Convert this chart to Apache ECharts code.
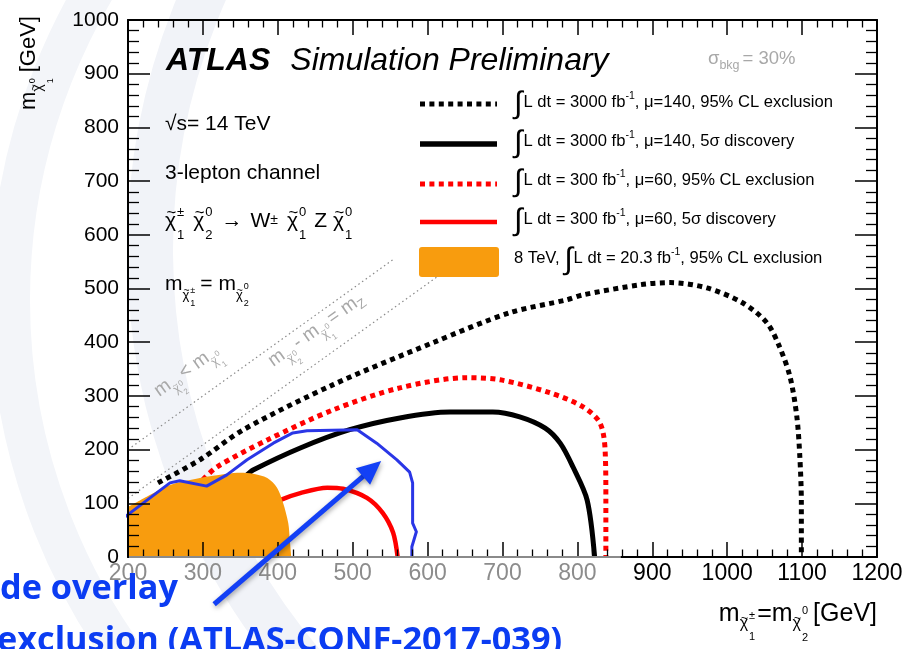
<!DOCTYPE html>
<html>
<head>
<meta charset="utf-8">
<script src="https://cdn.jsdelivr.net/npm/echarts@6/dist/echarts.min.js"></script>
<style>
html,body{margin:0;padding:0;background:#fff;}
#wrap{position:relative;width:912px;height:649px;overflow:hidden;}
#sweep{position:absolute;left:0;top:0;}
#c{position:absolute;left:0;top:0;width:912px;height:649px;}
</style>
</head>
<body>
<div id="wrap">
  <svg id="sweep" width="912" height="649" viewBox="0 0 912 649">
    <circle cx="790" cy="250" r="640" fill="none" stroke="#f1f3f8" stroke-width="46"/>
    <circle cx="620" cy="300" r="610" fill="none" stroke="#f3f5f9" stroke-width="40"/>
  </svg>
  <div id="c"></div>
</div>
<script>
// ---- axes ----
const xRange = [200, 1200];
const yRange = [0, 1000];
const tickStep = 100;
const greyLabelMax = 800;          // labels up to this value are printed in grey

// ---- contours: [m(chargino) = m(neutralino2), m(neutralino1)] in GeV ----
const excl3000 = [[240,138],[296,181],[354,237],[474,321],[607,399],[710,455],[786,479],[807,488],[884,507],[924,511],[973,501],[1021,473],[1053,436],[1070,391],[1084,335],[1093,261],[1097,186],[1099,101],[1099,0]];
const disc3000 = [[359,153],[367,162],[430,203],[496,237],[563,259],[630,270],[687,270],[723,261],[757,240],[777,212],[794,168],[813,106],[823,0]];
const excl300  = [[300,144],[319,168],[386,218],[474,274],[563,315],[653,334],[697,330],[763,306],[807,280],[830,250],[837,199],[838,106],[838,0]];
const disc300  = [[390,95],[403,106],[430,119],[466,129],[487,127],[519,110],[540,82],[554,45],[560,0]];
const excl8TeV = [[200,93],[225,112],[256,134],[296,147],[332,155],[350,157],[367,155],[386,147],[399,129],[407,101],[414,63],[416,32],[418,0]];
const overlay2017 = [[123,0],[136,9],[199,78],[256,138],[269,142],[305,132],[332,153],[359,181],[394,212],[420,231],[439,235],[506,237],[532,212],[559,181],[576,158],[580,138],[580,63],[585,47],[579,19],[579,0]];
const lineEqual = [[200,200],[556,556]];   // m(chi2) = m(chi1)
const lineMZ    = [[200,109],[625,534]];   // m(chi2) - m(chi1) = mZ
const arrowFrom = [315,-88], arrowTo = [538,179];

// ---- legend text ----
const legendRows = [
  ['L dt = 3000 fb', '-1', ', \u03bc=140, 95% CL exclusion'],
  ['L dt = 3000 fb', '-1', ', \u03bc=140, 5\u03c3 discovery'],
  ['L dt = 300 fb',  '-1', ', \u03bc=60, 95% CL exclusion'],
  ['L dt = 300 fb',  '-1', ', \u03bc=60, 5\u03c3 discovery'],
  ['L dt = 20.3 fb', '-1', ', 95% CL exclusion']
];

const FF = '"Liberation Sans", Arial, Helvetica, sans-serif';
const BLACK = '#000', RED = '#ff0000', ORANGE = '#f89c0e', BLUE = '#2a36e6', ARROW = '#1340f5';

const mctx = document.createElement('canvas').getContext('2d');
function textW(t, size, style, weight, fam) {
  mctx.font = `${style || 'normal'} ${weight || 'normal'} ${size}px ${fam || FF}`;
  return mctx.measureText(t).width;
}
function txt(x, baseline, t, f, p, fill) {
  return {
    type: 'text', x: x, y: baseline - 0.3465 * f, silent: true,
    style: { text: t, fontSize: f, fontFamily: FF, fontStyle: p.st || 'normal',
             fontWeight: p.wt || 'normal', fill: fill, verticalAlign: 'middle', align: 'left' }
  };
}

// lays out a run of text pieces on a common baseline (sub/superscripts via dy)
function formula(x0, y0, parts, opt) {
  opt = opt || {};
  const kids = [];
  let x = 0, kept = 0;
  for (const p of parts) {
    if (p.gap !== undefined) { x += p.gap; continue; }
    const w = textW(p.t, p.f, p.st, p.wt);
    const fill = p.c || opt.c || '#000';
    const dy = p.dy || 0;
    kids.push(txt(x, dy, p.t, p.f, p, fill));
    if (p.tilde) {
      const ts = p.f * 0.8, tw = textW('~', ts);
      kids.push(txt(x + (w - tw) / 2 + p.f * 0.04, dy - 0.40 * p.f, '~', ts, {}, fill));
    }
    if (p.k) kept = w; else { x += Math.max(w, kept); kept = 0; }
  }
  if (opt.align === 'right') kids.forEach(k => { k.x -= x; });
  return { type: 'group', x: x0, y: y0, rotation: opt.rot || 0, children: kids, z: opt.z || 20, silent: true };
}
function chi(F, S, sup, sub, supDy, subDy, base) {
  base = base || 0;
  return [{ t: '\u03c7', f: F, dy: base, tilde: true }, { gap: 1 },
          { t: sup, f: S, dy: supDy, k: true }, { t: sub, f: S, dy: subDy }];
}

function xAxisCfg(pos, labels) {
  return {
    type: 'value', position: pos, min: xRange[0], max: xRange[1], interval: tickStep, z: 10,
    axisLine: { show: true, onZero: false, lineStyle: { color: '#000', width: 2 } },
    axisTick: { show: true, inside: true, length: 15, lineStyle: { color: '#000', width: 1.5 } },
    minorTick: { show: true, splitNumber: 5, length: 7.5, lineStyle: { color: '#000', width: 1.3 } },
    splitLine: { show: false }, minorSplitLine: { show: false },
    axisLabel: labels ? {
      show: true, fontSize: 23, fontFamily: FF, margin: 5, showMinLabel: true, showMaxLabel: true,
      formatter: (v) => String(v),
      color: (v) => (Number(v) <= greyLabelMax ? '#8c8c8c' : '#000')
    } : { show: false }
  };
}
function yAxisCfg(pos, labels) {
  return {
    type: 'value', position: pos, min: yRange[0], max: yRange[1], interval: tickStep, z: 10,
    axisLine: { show: true, onZero: false, lineStyle: { color: '#000', width: 2 } },
    axisTick: { show: true, inside: true, length: 22, lineStyle: { color: '#000', width: 1.5 } },
    minorTick: { show: true, splitNumber: 5, length: 11, lineStyle: { color: '#000', width: 1.3 } },
    splitLine: { show: false }, minorSplitLine: { show: false },
    axisLabel: labels ? { show: true, fontSize: 21, fontFamily: FF, color: '#000', margin: 9,
                          formatter: (v) => String(v),
                          showMinLabel: true, showMaxLabel: true } : { show: false }
  };
}

function curve(name, data, color, width, dotted, z) {
  return {
    type: 'line', name: name, data: data,
    symbol: 'none', showSymbol: false, smooth: 0.3, silent: true, z: z,
    lineStyle: { color: color, width: width, type: dotted ? [5, 4.4] : 'solid', cap: 'butt', join: 'round' },
    animation: false
  };
}

const series = [
  { type: 'line', data: lineEqual, symbol: 'none', silent: true, z: 1,
    lineStyle: { color: '#8a8a8a', width: 1.2, type: [1.5, 3] }, animation: false },
  { type: 'line', data: lineMZ, symbol: 'none', silent: true, z: 1,
    lineStyle: { color: '#8a8a8a', width: 1.2, type: [1.5, 3] }, animation: false },
  curve('3000 exclusion', excl3000, BLACK, 5, true, 2),
  curve('300 exclusion', excl300, RED, 5, true, 2),
  curve('3000 discovery', disc3000, BLACK, 5, false, 2),
  curve('300 discovery', disc300, RED, 4.5, false, 2),
  { type: 'line', name: '8 TeV exclusion', data: excl8TeV, symbol: 'none', smooth: 0.3, silent: true, z: 3,
    lineStyle: { width: 0 }, areaStyle: { color: ORANGE, opacity: 1 }, animation: false },
  { type: 'line', name: 'overlay', data: overlay2017, symbol: 'none', smooth: false, silent: true, z: 4,
    clip: false, lineStyle: { color: BLUE, width: 3, join: 'round' }, animation: false }
];

const option = {
  animation: false,
  grid: { left: 128, right: 35, top: 20, bottom: 92 },
  xAxis: [xAxisCfg('bottom', true), xAxisCfg('top', false)],
  yAxis: [yAxisCfg('left', true), yAxisCfg('right', false)],
  series: series
};

// a detached instance with the same grid gives the data -> pixel mapping for annotations
const probeDiv = document.createElement('div');
probeDiv.style.cssText = 'position:absolute;left:-3000px;top:0;width:912px;height:649px;';
document.body.appendChild(probeDiv);
const probe = echarts.init(probeDiv);
probe.setOption(option);
const toPx = (p) => probe.convertToPixel({ xAxisIndex: 0, yAxisIndex: 0 }, p);

// ---- legend and annotations ----
const g = [];

// legend samples
const legY = [104, 144, 184, 222];
const legStyle = [[BLACK, true, 5], [BLACK, false, 5.5], [RED, true, 5], [RED, false, 4.5]];
legY.forEach((y, i) => {
  const s = legStyle[i];
  g.push({ type: 'line', z: 20, silent: true, shape: { x1: 420, y1: y, x2: 497, y2: y },
           style: { stroke: s[0], lineWidth: s[2], lineDash: s[1] ? [5, 4.4] : null, lineCap: 'butt' } });
});
g.push({ type: 'rect', z: 20, silent: true, shape: { x: 419, y: 247, width: 80, height: 30, r: 3 }, style: { fill: ORANGE } });

// legend text with integral sign
const legBase = [108, 147, 186, 225, 264];
legBase.forEach((b, i) => {
  const r = legendRows[i];
  const pre = i === 4 ? [{ t: '8 TeV, ', f: 16.6 }] : [];
  g.push(formula(514, b, pre.concat([
    { t: '\u222b', f: 31, dy: 7 }, { gap: 1 },
    { t: r[0], f: 16.6 }, { t: r[1], f: 10.5, dy: -8 }, { t: r[2], f: 16.6 }
  ])));
});

// sigma_bkg
g.push(formula(708, 65, [{ t: '\u03c3', f: 18.5 }, { t: 'bkg', f: 12.5, dy: 5 }, { gap: 3 }, { t: '= 30%', f: 18.5 }], { c: '#a8a8a8' }));

// ATLAS Simulation Preliminary
g.push(formula(166, 72, [{ t: 'ATLAS', f: 32, st: 'italic', wt: 'bold' }, { gap: 20 },
                         { t: 'Simulation Preliminary', f: 32, st: 'italic' }]));

// process annotations
g.push(formula(165, 131, [{ t: '\u221as= 14 TeV', f: 21 }]));
g.push(formula(165, 180, [{ t: '3-lepton channel', f: 21 }]));
g.push(formula(165, 228, [].concat(
  chi(21, 13, '\u00b1', '1', -11, 12), { gap: 9 },
  chi(21, 13, '0', '2', -11, 12), { gap: 9 },
  { t: '\u2192', f: 21 }, { gap: 8 }, { t: 'W', f: 21 }, { t: '\u00b1', f: 14, dy: -3 }, { gap: 9 },
  chi(21, 13, '0', '1', -11, 12), { gap: 8 },
  { t: 'Z', f: 21 }, { gap: 6 },
  chi(21, 13, '0', '1', -11, 12)
)));
g.push(formula(165, 291, [].concat(
  { t: 'm', f: 21 }, chi(13, 9, '\u00b1', '1', 3, 16, 9), { gap: 5 },
  { t: '= m', f: 21 }, chi(13, 9, '0', '2', -1, 16, 9)
)));

// diagonal line labels
const ang = Math.atan2(0.5365, 0.749);
g.push(formula(160, 398, [].concat(
  { t: 'm', f: 19 }, chi(12, 8, '0', '2', 3, 13, 7), { gap: 3 },
  { t: '< m', f: 19 }, chi(12, 8, '0', '1', 0, 13, 7)
), { rot: ang, c: '#a8a8a8' }));
g.push(formula(274, 368, [].concat(
  { t: 'm', f: 19 }, chi(12, 8, '0', '2', 3, 13, 7), { gap: 3 },
  { t: '- m', f: 19 }, chi(12, 8, '0', '1', 0, 13, 7), { gap: 3 },
  { t: '= m', f: 19 }, { t: 'Z', f: 13, dy: 4 }
), { rot: ang, c: '#a8a8a8' }));

// axis titles
g.push(formula(877, 623, [].concat(
  { t: 'm', f: 25 }, chi(16, 11, '\u00b1', '1', -3, 18, 6), { gap: 2 },
  { t: '=m', f: 25 }, chi(16, 11, '0', '2', -8, 19, 6), { gap: 5 },
  { t: '[GeV]', f: 25 }
), { align: 'right' }));
g.push(formula(37, 110, [].concat(
  { t: 'm', f: 22 }, chi(14, 9, '0', '1', -1, 17, 6), { gap: 6 },
  { t: '[GeV]', f: 22 }
), { rot: Math.PI / 2 }));

// arrow pointing into the overlay contour
const a0 = toPx(arrowFrom), a1 = toPx(arrowTo);
const adx = a1[0] - a0[0], ady = a1[1] - a0[1], alen = Math.hypot(adx, ady);
const ux = adx / alen, uy = ady / alen, headL = 24, headW = 11;
const hb = [a1[0] - ux * headL, a1[1] - uy * headL];
const arrowShadow = { shadowBlur: 5, shadowColor: 'rgba(0,0,0,0.35)', shadowOffsetX: 1, shadowOffsetY: 2 };
g.push({ type: 'line', z: 25, silent: true, shape: { x1: a0[0], y1: a0[1], x2: hb[0] + ux * 4, y2: hb[1] + uy * 4 },
         style: Object.assign({ stroke: ARROW, lineWidth: 5, lineCap: 'butt' }, arrowShadow) });
g.push({ type: 'polygon', z: 25, silent: true,
         shape: { points: [a1, [hb[0] - uy * headW, hb[1] + ux * headW], [hb[0] + uy * headW, hb[1] - ux * headW]] },
         style: Object.assign({ fill: ARROW }, arrowShadow) });

// slide caption in blue
const capFam = '"Open Sans", "Noto Sans", sans-serif';
const capSize = 31 * 178 / textW('de overlay', 31, 'normal', 'bold', capFam);
g.push({ type: 'text', z: 30, silent: true, x: 0, y: 606,
         style: { text: 'de overlay', fontSize: capSize, fontWeight: 'bold', fontFamily: capFam,
                  fill: '#0b3cf2', verticalAlign: 'bottom', align: 'left' } });
g.push({ type: 'text', z: 30, silent: true, x: -3, y: 658,
         style: { text: 'exclusion (ATLAS-CONF-2017-039)', fontSize: capSize, fontWeight: 'bold', fontFamily: capFam,
                  fill: '#0b3cf2', verticalAlign: 'bottom', align: 'left' } });

// greyed portion of the bottom frame
const p0 = toPx([xRange[0], yRange[0]]);
const p1 = toPx([858, yRange[0]]);
g.push({ type: 'line', z: 15, silent: true, shape: { x1: p0[0] + 1, y1: p0[1], x2: p1[0], y2: p1[1] },
         style: { stroke: '#8a8a8a', lineWidth: 2 } });

probe.dispose();
probeDiv.remove();

option.graphic = g;
const chart = echarts.init(document.getElementById('c'));
chart.setOption(option);
</script>
</body>
</html>
